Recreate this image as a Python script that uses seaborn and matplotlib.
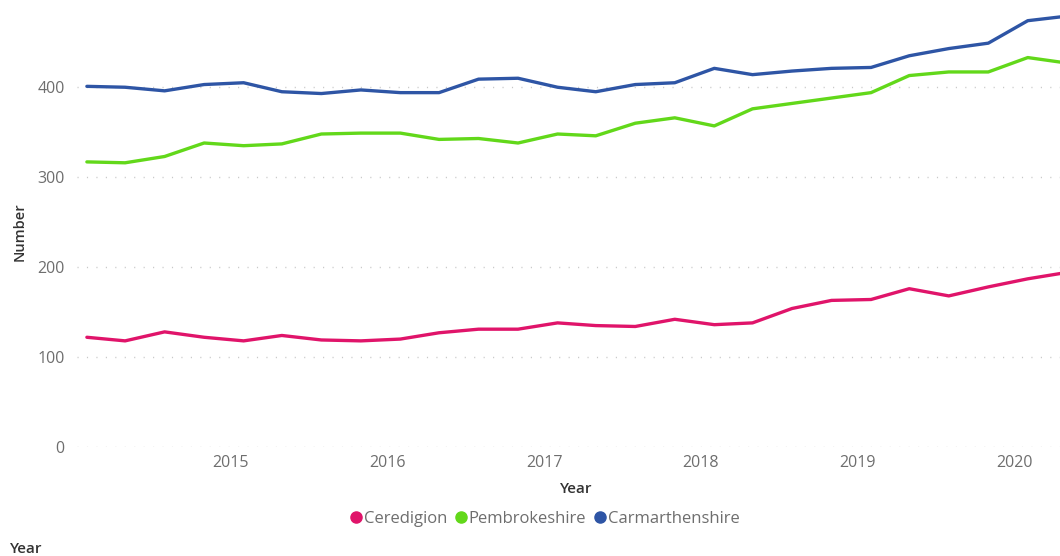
import matplotlib
matplotlib.use("Agg")
import matplotlib.pyplot as plt
import matplotlib.dates as mdates
from matplotlib.lines import Line2D
import pandas as pd
import seaborn as sns

# Quarterly snapshot dates
dates = [
    "2014-02-01", "2014-05-01", "2014-08-01", "2014-11-01",
    "2015-02-01", "2015-05-01", "2015-08-01", "2015-11-01",
    "2016-02-01", "2016-05-01", "2016-08-01", "2016-11-01",
    "2017-02-01", "2017-05-01", "2017-08-01", "2017-11-01",
    "2018-02-01", "2018-05-01", "2018-08-01", "2018-11-01",
    "2019-02-01", "2019-05-01", "2019-08-01", "2019-11-01",
    "2020-02-01", "2020-05-01",
]

ceredigion = [122, 118, 128, 122, 118, 124, 119, 118, 120, 127, 131, 131, 138,
              135, 134, 142, 136, 138, 154, 163, 164, 176, 168, 178, 187, 194]
pembrokeshire = [317, 316, 323, 338, 335, 337, 348, 349, 349, 342, 343, 338, 348,
                 346, 360, 366, 357, 376, 382, 388, 394, 413, 417, 417, 433, 427]
carmarthenshire = [401, 400, 396, 403, 405, 395, 393, 397, 394, 394, 409, 410, 400,
                   395, 403, 405, 421, 414, 418, 421, 422, 435, 443, 449, 474, 479]

areas = ["Ceredigion", "Pembrokeshire", "Carmarthenshire"]
colors = ["#E0146A", "#62D81A", "#2E55A5"]
y_ticks = [0, 100, 200, 300, 400]

series = {"Ceredigion": ceredigion, "Pembrokeshire": pembrokeshire,
          "Carmarthenshire": carmarthenshire}
df = pd.concat(
    [pd.DataFrame({"Year": pd.to_datetime(dates), "Number": vals, "Area": name})
     for name, vals in series.items()],
    ignore_index=True,
)

sns.set_theme(style="white")
plt.rcParams["font.family"] = ["Open Sans", "DejaVu Sans"]

fig = plt.figure(figsize=(10.6, 5.56), dpi=100)
ax = fig.add_axes([77 / 1060, 109 / 556, 1 - 77 / 1060, 447 / 556])

sns.lineplot(data=df, x="Year", y="Number", hue="Area", hue_order=areas,
             palette=dict(zip(areas, colors)), linewidth=2.4, legend=False, ax=ax)

ax.set_ylim(0, 497)
ax.set_xlim(pd.Timestamp("2014-01-09"), pd.Timestamp("2020-04-16"))
ax.set_yticks(y_ticks)
ax.xaxis.set_major_locator(mdates.YearLocator())
ax.xaxis.set_major_formatter(mdates.DateFormatter("%Y"))

for s in ax.spines.values():
    s.set_visible(False)
ax.grid(axis="y", color="#C8C8C8", linewidth=1.0, linestyle=(0, (0.8, 6)))
ax.grid(axis="x", visible=False)
ax.tick_params(axis="both", length=0, colors="#6E6E6E", labelsize=11.5)
ax.tick_params(axis="y", pad=9)
ax.tick_params(axis="x", pad=6)
ax.set_xlabel("")
ax.set_ylabel("")

fig.text(20 / 1060, 1 - 232 / 556, "Number", rotation=90, ha="center", va="center",
         fontsize=10.5, color="#333333", fontweight="semibold")
fig.text(576 / 1060, 1 - 489 / 556, "Year", ha="center", va="center",
         fontsize=11, color="#333333", fontweight="semibold")
fig.text(10 / 1060, 1 - 549 / 556, "Year", ha="left", va="center",
         fontsize=11, color="#333333", fontweight="semibold")

handles = [Line2D([], [], linestyle="none", marker="o", markersize=8,
                  markerfacecolor=c, markeredgecolor=c) for c in colors]
fig.legend(handles, areas, loc="center", bbox_to_anchor=(545 / 1060, 1 - 519 / 556),
           ncol=3, frameon=False, fontsize=12, labelcolor="#6E6E6E",
           handlelength=0.7, handletextpad=0.1, columnspacing=0.5, borderpad=0)

fig.savefig("out.png", dpi=100)
